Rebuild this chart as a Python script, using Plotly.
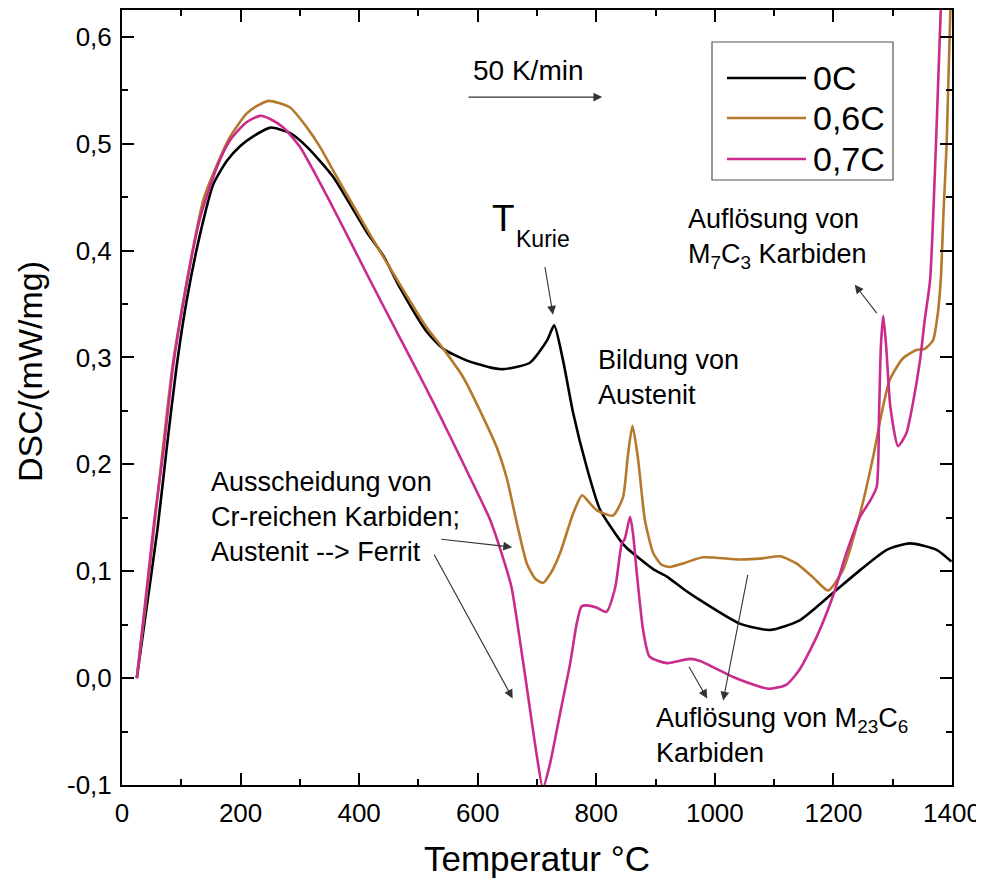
import plotly.graph_objects as go

# ---------------- data ----------------
T_0C = [25, 40, 60, 75, 92, 109, 132, 154, 177, 200, 222, 250, 283, 312, 356, 413, 441, 469,
        514, 542, 582, 626, 643, 688, 717, 729, 744, 761, 784, 806, 840, 851, 896, 919, 953,
        975, 1042, 1093, 1143, 1200, 1245, 1290, 1329, 1374, 1399]
DSC_0C = [0.0, 0.06, 0.14, 0.213, 0.291, 0.353, 0.416, 0.462, 0.484, 0.498, 0.507, 0.515, 0.510,
          0.497, 0.469, 0.417, 0.395, 0.365, 0.324, 0.308, 0.297, 0.290, 0.289, 0.295, 0.316,
          0.330, 0.297, 0.248, 0.197, 0.158, 0.129, 0.122, 0.102, 0.095, 0.081, 0.073, 0.051,
          0.045, 0.054, 0.080, 0.101, 0.120, 0.126, 0.120, 0.109]

T_06C = [25, 40, 60, 70, 86, 109, 119, 137, 160, 182, 210, 227, 247, 283, 312, 334, 356, 413,
         469, 514, 542, 576, 604, 632, 649, 666, 683, 697, 710, 725, 739, 761, 776, 790, 801,
         828, 845, 853, 861, 870, 882, 896, 910, 924, 950, 980, 1042, 1080, 1110, 1138, 1166,
         1191, 1216, 1245, 1267, 1281, 1295, 1317, 1340, 1354, 1368, 1376, 1381, 1386, 1391, 1398]
DSC_06C = [0.0, 0.07, 0.17, 0.22, 0.295, 0.37, 0.40, 0.447, 0.48, 0.506, 0.528, 0.535, 0.540,
           0.534, 0.515, 0.497, 0.475, 0.420, 0.368, 0.328, 0.308, 0.281, 0.250, 0.216, 0.187,
           0.145, 0.107, 0.093, 0.089, 0.100, 0.117, 0.154, 0.171, 0.163, 0.157, 0.152, 0.169,
           0.207, 0.236, 0.207, 0.148, 0.117, 0.106, 0.104, 0.108, 0.113, 0.111, 0.112, 0.114,
           0.107, 0.094, 0.082, 0.101, 0.154, 0.207, 0.247, 0.279, 0.299, 0.307, 0.308, 0.316,
           0.341, 0.372, 0.44, 0.50, 0.64]

T_07C = [25, 40, 55, 70, 86, 109, 132, 160, 182, 210, 233, 250, 272, 300, 356, 413, 469, 500,
         525, 550, 592, 621, 643, 657, 671, 685, 699, 710, 722, 739, 756, 767, 775, 784, 800,
         817, 832, 843, 848, 857, 862, 868, 879, 890, 919, 958, 975, 1031, 1076, 1093, 1121,
         1143, 1172, 1200, 1222, 1245, 1262, 1273, 1277, 1280, 1284, 1289, 1296, 1309, 1323,
         1334, 1346, 1354, 1363, 1373, 1382]
DSC_07C = [0.0, 0.075, 0.15, 0.213, 0.291, 0.369, 0.431, 0.478, 0.503, 0.520, 0.526, 0.523,
           0.515, 0.497, 0.44, 0.378, 0.318, 0.285, 0.258, 0.23, 0.182, 0.148, 0.112, 0.085,
           0.036, -0.017, -0.070, -0.103, -0.080, -0.033, 0.014, 0.051, 0.067, 0.068, 0.066,
           0.062, 0.085, 0.126, 0.130, 0.151, 0.135, 0.100, 0.045, 0.020, 0.014, 0.018, 0.016,
           0.001, -0.008, -0.010, -0.006, 0.008, 0.039, 0.078, 0.117, 0.151, 0.166, 0.179,
           0.248, 0.31, 0.339, 0.31, 0.254, 0.217, 0.229, 0.257, 0.297, 0.335, 0.372, 0.50, 0.64]

series_names = ["0C", "0,6C", "0,7C"]
series_colors = ["#000000", "#B5792C", "#C92C8C"]

x_tickvals = [0, 200, 400, 600, 800, 1000, 1200, 1400]
x_ticktext = ["0", "200", "400", "600", "800", "1000", "1200", "1400"]
y_tickvals = [-0.1, 0.0, 0.1, 0.2, 0.3, 0.4, 0.5, 0.6]
y_ticktext = ["-0,1", "0,0", "0,1", "0,2", "0,3", "0,4", "0,5", "0,6"]

x_title = "Temperatur °C"
y_title = "DSC/(mW/mg)"

FONT = "Arial, Liberation Sans, sans-serif"

fig = go.Figure()
for T, D, name, col in zip([T_0C, T_06C, T_07C], [DSC_0C, DSC_06C, DSC_07C],
                           series_names, series_colors):
    fig.add_trace(go.Scatter(x=T, y=D, mode="lines", name=name,
                             line=dict(color=col, width=2.6, shape="spline", smoothing=0.6),
                             showlegend=False))

# plot area in page pixels: x 122..952, y 10..785 (page body has an 8 px margin)
def px2paper_x(px):
    return (px - 122) / 830.0

def px2paper_y(py):
    return (785 - py) / 775.0

# ---- manual legend ----
shapes = [dict(type="rect", xref="paper", yref="paper",
               x0=px2paper_x(712), x1=px2paper_x(893), y0=px2paper_y(180), y1=px2paper_y(42),
               line=dict(color="#555555", width=1.2), fillcolor="rgba(0,0,0,0)")]
annotations = []
for i, (name, col) in enumerate(zip(series_names, series_colors)):
    yy = px2paper_y([78, 118, 159][i])
    shapes.append(dict(type="line", xref="paper", yref="paper",
                       x0=px2paper_x(727), x1=px2paper_x(806), y0=yy, y1=yy,
                       line=dict(color=col, width=2.6)))
    annotations.append(dict(xref="paper", yref="paper", x=px2paper_x(811), y=yy,
                            text=name, showarrow=False, xanchor="left", yanchor="middle",
                            font=dict(size=34, color="black", family=FONT)))

# ---- axis titles ----
annotations.append(dict(xref="paper", yref="paper", x=px2paper_x(537), y=px2paper_y(858),
                        text=x_title, showarrow=False, xanchor="center", yanchor="middle",
                        font=dict(size=35, color="black", family=FONT)))
annotations.append(dict(xref="paper", yref="paper", x=px2paper_x(30), y=px2paper_y(372),
                        text=y_title, showarrow=False, xanchor="center", yanchor="middle",
                        textangle=-90, font=dict(size=34, color="black", family=FONT)))

# ---- text labels ----
def txt(x, y, s, size=27, xanchor="left", yanchor="middle"):
    annotations.append(dict(x=x, y=y, xref="x", yref="y", text=s, showarrow=False,
                            xanchor=xanchor, yanchor=yanchor, align="left",
                            font=dict(size=size, color="black", family=FONT)))

txt(589, 0.568, "50 K/min", size=28)
txt(620, 0.4300, "T", size=37)
txt(661, 0.4107, "Kurie", size=23)
txt(799, 0.281, "Bildung von<br>Austenit", size=27)
txt(952, 0.411, "Auflösung von<br>M<sub>7</sub>C<sub>3</sub> Karbiden", size=27)
txt(146, 0.151, "Ausscheidung von<br>Cr-reichen Karbiden;<br>Austenit --> Ferrit", size=27)
txt(897, -0.054, "Auflösung von M<sub>23</sub>C<sub>6</sub><br>Karbiden", size=27)

# ---- arrows (head x,y ; tail ax,ay in data coords) ----
def arrow(x, y, ax, ay, size=1.6):
    annotations.append(dict(x=x, y=y, ax=ax, ay=ay, xref="x", yref="y", axref="x", ayref="y",
                            text="", showarrow=True, arrowhead=2, arrowsize=size,
                            arrowwidth=1.1, arrowcolor="#333333", standoff=0))

arrow(810, 0.5435, 582, 0.5435)
arrow(727, 0.340, 713, 0.386)
arrow(1236, 0.368, 1275, 0.340)
arrow(658, 0.1225, 536, 0.130)
arrow(659, -0.019, 525, 0.117)
arrow(987, -0.019, 955, 0.012)
arrow(1014, -0.021, 1056, 0.098)

axis_common = dict(showline=True, linecolor="black", linewidth=2, mirror="ticks",
                   ticks="inside", ticklen=12, tickwidth=2, tickcolor="black",
                   showgrid=False, zeroline=False, automargin=False,
                   tickfont=dict(size=26, color="black", family=FONT))

# figure is drawn at an 8 px offset inside the page, so it is 8 px smaller than the window
fig.update_layout(
    width=976, height=871,
    margin=dict(l=114, r=32, t=2, b=94, autoexpand=False),
    paper_bgcolor="white", plot_bgcolor="white",
    shapes=shapes, annotations=annotations,
    xaxis=dict(range=[0, 1400], tickvals=x_tickvals, ticktext=x_ticktext,
               ticklabelstandoff=4,
               minor=dict(dtick=100, tick0=0, ticks="inside", ticklen=6, tickwidth=2,
                          tickcolor="black"),
               **axis_common),
    yaxis=dict(range=[-0.1, 0.625], tickvals=y_tickvals, ticktext=y_ticktext,
               ticklabelstandoff=3,
               minor=dict(dtick=0.05, tick0=0, ticks="inside", ticklen=6, tickwidth=2,
                          tickcolor="black"),
               **axis_common),
)

fig.write_html("out.html")
